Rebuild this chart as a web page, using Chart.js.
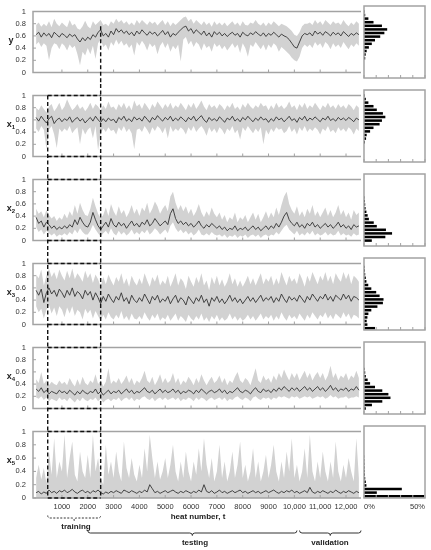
<!DOCTYPE html>
<html lang="en">
<head>
<meta charset="UTF-8">
<title>Heat number series</title>
<script src="https://cdn.jsdelivr.net/npm/chart.js"></script>
<style>
    body { margin: 0; background: #fff; font-family: "Liberation Sans", Arial, sans-serif; }
    #fig { position: relative; width: 431px; height: 550px; overflow: hidden; }
    #fig canvas { position: absolute; }
    .vname { position: absolute; font-weight: bold; font-size: 9px; color: #222; width: 16px; text-align: center; }
    .vname sub { font-size: 6px; vertical-align: -2px; }
    .note { position: absolute; font-weight: bold; font-size: 8px; color: #222; white-space: nowrap; transform: translateX(-50%); }
</style>
</head>
<body>
<div id="fig"></div>

<script>
    // x axis: heat number
    const heatStep = 100;
    const heatMin = -120, heatMax = 12580;
    const heatTicks = [1000, 2000, 3000, 4000, 5000, 6000, 7000, 8000, 9000, 10000, 11000, 12000];
    const heatTickLabels = ['1000', '2000', '3000', '4000', '5000', '6000', '7000', '8000', '9000', '10,000', '11,000', '12,000'];

    // y axis: normalised value
    const valueTicks = [0, 0.2, 0.4, 0.6, 0.8, 1];
    const valueTickLabels = ['0', '0.2', '0.4', '0.6', '0.8', '1'];

    // histogram axis (share of heats, %)
    const shareTicks = [0, 10, 20, 30, 40, 50];
    const shareTickLabels = ['0%', '', '', '', '', '50%'];
    const binCenters = [0.025, 0.075, 0.125, 0.175, 0.225, 0.275, 0.325, 0.375, 0.425, 0.475,
                        0.525, 0.575, 0.625, 0.675, 0.725, 0.775, 0.825, 0.875, 0.925, 0.975];

    // data sets (heat windows)
    const trainStart = 450, trainEnd = 2500;
    const testStart = 2000, testEnd = 10100;
    const validStart = 10200, validEnd = 12580;

    // series values in % of range, one value per 100 heats
    const yMean = [62,66,58,65,60,64,57,66,62,58, 64,61,57,63,59,62,55,50,57,52,
                   58,54,62,58,66,70,60,64,58,68, 62,72,66,70,64,68,62,66,60,68,
                   63,70,65,61,67,63,66,60,64,69, 62,67,58,64,61,66,70,74,76,68,
                   72,64,70,66,62,68,60,65,58,67, 62,66,60,64,59,63,66,61,64,58,
                   66,62,60,65,62,67,63,60,65,59, 64,61,66,62,58,63,60,58,54,48,
                   42,40,50,60,64,62,65,60,68,63, 66,61,67,64,60,66,62,65,60,67,
                   63,59,64,61,65,62];
    const yHigh = [78,82,75,80,76,84,74,88,80,76, 82,78,74,86,77,80,72,70,76,85,
                   76,72,84,78,82,86,78,80,76,84, 80,88,82,86,80,84,78,82,77,86,
                   80,86,82,78,84,80,83,77,82,86, 78,84,76,82,78,82,86,90,92,84,
                   88,80,86,82,78,84,78,82,75,84, 78,82,77,82,76,80,84,78,82,76,
                   84,78,77,82,80,86,80,77,82,76, 82,78,84,80,76,80,78,76,72,68,
                   62,60,66,76,80,80,82,78,86,80, 84,78,86,82,78,84,80,82,78,86,
                   80,76,82,78,84,80];
    const yLow  = [46,50,42,48,44,20,40,48,46,38, 48,44,36,46,40,44,30,12,34,28,
                   40,30,44,22,48,54,42,46,36,50, 44,54,46,52,44,48,40,46,28,50,
                   44,52,46,36,48,42,46,30,44,50, 40,48,34,44,38,46,18,54,58,46,
                   52,42,50,46,36,48,40,44,34,48, 42,46,38,44,36,42,48,40,46,32,
                   48,40,26,46,42,50,44,38,46,36, 46,40,48,44,34,42,38,34,30,24,
                   20,18,26,40,46,42,46,40,50,44, 48,40,50,46,38,48,42,46,40,50,
                   44,38,46,42,48,44];

    const x1Mean = [64,58,66,60,55,62,66,54,60,63, 57,62,59,65,56,61,64,58,62,55,
                    60,64,58,66,60,56,62,57,63,59, 61,55,64,60,66,58,62,57,65,60,
                    63,58,66,61,56,64,60,67,62,58, 64,60,66,58,63,59,65,61,57,64,
                    60,66,58,63,67,60,56,64,59,62, 58,65,61,56,63,60,66,58,62,57,
                    64,60,66,61,57,63,59,65,60,62, 56,62,58,65,60,63,57,61,66,59,
                    62,56,64,60,66,58,63,60,65,61, 57,63,60,66,59,62,58,64,60,63,
                    59,64,61,57,63,60];
    const x1High = [80,76,84,78,72,82,86,74,80,88, 76,82,94,84,76,80,86,78,82,74,
                    80,88,78,86,82,76,84,78,90,80, 82,76,86,80,88,78,84,76,92,82,
                    86,78,88,82,76,86,80,90,84,78, 86,80,88,78,84,80,88,82,76,86,
                    80,88,78,84,92,82,76,86,80,84, 78,86,82,76,84,80,88,78,82,76,
                    86,80,88,82,78,84,80,88,82,84, 76,84,78,88,80,84,78,82,90,80,
                    84,76,86,80,88,78,84,80,88,82, 76,84,80,88,80,84,78,86,80,84,
                    78,86,82,76,84,80];
    const x1Low  = [46,40,50,44,12,44,50,36,14,46, 40,46,42,50,38,44,48,20,46,36,
                    44,48,30,50,10,38,46,40,48,42, 44,36,48,42,50,40,46,38,12,44,
                    46,40,50,44,36,48,42,50,46,38, 48,30,50,40,46,42,48,44,36,48,
                    42,50,40,46,50,44,34,48,40,46, 38,48,44,36,46,42,50,38,44,28,
                    48,42,50,44,38,46,40,48,20,44, 36,46,40,48,44,46,38,42,50,40,
                    46,36,48,42,50,40,46,42,48,44, 36,46,42,50,40,44,38,48,42,46,
                    40,48,44,36,46,42];

    const x2Mean = [38,28,32,22,30,26,20,24,18,22, 19,24,20,26,22,34,26,38,30,24,
                    22,30,46,34,24,18,24,30,22,36, 26,22,30,24,28,20,26,32,24,28,
                    22,30,26,34,24,28,36,30,24,28, 32,26,44,52,36,28,32,26,30,24,
                    28,22,26,32,24,20,26,22,28,24, 20,24,18,22,16,20,18,24,16,20,
                    18,22,16,20,24,18,22,16,20,24, 18,24,20,28,22,30,40,46,34,28,
                    24,30,22,26,20,28,24,30,22,26, 20,24,28,22,26,20,24,30,22,26,
                    20,24,18,26,22,24];
    const x2High = [52,44,48,38,50,42,36,40,32,38, 34,44,36,48,40,58,44,62,50,42,
                    40,52,70,56,44,36,42,54,40,60, 48,40,56,44,50,38,46,58,44,52,
                    40,54,48,62,44,52,64,56,44,52, 58,48,72,80,62,50,58,48,56,44,
                    52,40,48,60,46,38,48,40,54,44, 38,46,34,42,30,38,34,46,30,38,
                    34,42,30,38,46,34,44,30,38,48, 36,46,38,54,42,58,72,80,60,50,
                    44,56,40,48,38,52,44,58,40,48, 38,46,54,40,50,38,46,58,42,50,
                    38,46,34,50,42,46];
    const x2Low  = [22,14,18,10,16,12,8,12,6,10, 8,12,8,14,10,18,12,20,14,10,
                    10,16,26,18,12,6,12,16,10,20, 12,8,16,10,14,8,12,18,10,14,
                    10,16,12,18,10,14,20,16,10,14, 18,12,24,30,20,14,18,12,16,10,
                    14,8,12,18,10,8,12,8,14,10, 8,10,6,10,4,8,6,10,4,8,
                    6,10,4,8,10,6,10,4,8,10, 6,10,8,14,10,16,22,26,18,14,
                    10,16,8,12,8,14,10,16,8,12, 8,10,14,8,12,8,10,16,8,12,
                    8,10,6,12,8,10];

    const x3Mean = [56,48,58,36,52,60,50,56,46,58, 52,44,56,48,60,46,54,50,42,56,
                    48,54,40,52,44,34,46,38,50,42, 36,46,40,52,38,44,34,48,40,36,
                    44,38,50,42,34,46,40,48,36,42, 38,46,34,42,48,36,44,40,32,46,
                    40,34,44,38,48,36,42,30,44,38, 46,36,42,34,40,48,38,44,36,42,
                    34,40,46,38,44,36,42,48,38,44, 40,46,36,44,38,50,42,36,46,40,
                    44,38,48,42,36,46,40,50,44,38, 46,42,50,40,46,38,48,44,40,50,
                    42,48,38,46,44,40];
    const x3High = [82,76,90,64,80,92,78,86,74,90, 80,72,88,76,92,74,84,78,70,88,
                    76,84,68,82,74,62,78,66,82,72, 64,78,70,84,66,76,62,80,70,64,
                    76,66,84,72,62,78,70,82,64,72, 66,80,62,72,84,64,76,70,58,80,
                    70,62,78,68,84,64,72,56,78,66, 80,64,74,62,70,84,66,76,62,72,
                    62,70,80,66,76,64,74,84,66,76, 70,80,64,76,66,86,74,64,80,70,
                    76,66,84,74,62,80,70,86,76,66, 80,72,86,70,80,66,84,76,70,86,
                    74,84,66,80,76,70];
    const x3Low  = [30,20,26,10,24,32,18,28,14,30, 24,12,28,18,30,14,24,20,8,26,
                    18,24,10,22,14,6,16,8,20,12, 8,16,10,22,8,14,6,18,10,8,
                    14,8,20,12,6,16,10,18,6,12, 8,16,6,12,18,6,14,10,4,16,
                    10,6,14,8,18,6,12,4,14,8, 16,6,12,6,10,18,8,14,6,12,
                    6,10,16,8,14,6,12,18,8,14, 10,16,6,14,8,20,12,6,16,10,
                    14,8,18,12,6,16,10,20,14,8, 16,12,20,10,16,8,18,14,10,20,
                    12,18,8,16,14,10];

    const x4Mean = [32,28,34,26,30,24,28,26,24,30, 26,28,24,30,26,22,28,24,30,26,
                    24,28,26,32,24,28,22,26,30,24, 28,26,30,24,28,32,26,30,24,28,
                    26,30,34,28,26,30,24,28,32,26, 30,26,28,32,26,30,24,28,26,30,
                    28,24,30,26,32,28,24,28,30,26, 28,32,26,30,24,28,26,30,34,28,
                    26,30,28,24,30,34,28,26,32,28, 30,26,32,28,34,30,36,32,28,34,
                    30,34,28,32,36,30,34,28,32,36, 30,34,28,32,38,30,34,28,32,30,
                    34,28,32,30,36,30];
    const x4High = [48,42,60,40,46,38,44,40,38,46, 40,44,38,50,42,36,48,38,52,42,
                    38,46,42,56,40,46,36,44,66,40, 46,42,50,40,46,54,42,50,38,46,
                    42,50,62,46,42,52,38,46,56,42, 50,42,46,58,42,50,38,46,42,52,
                    46,38,50,42,56,46,38,46,52,42, 46,54,42,50,38,46,42,52,60,46,
                    42,50,46,38,52,66,46,42,54,46, 50,42,54,46,58,50,64,54,46,58,
                    50,58,46,54,62,50,58,46,54,60, 50,58,46,54,70,50,58,46,54,50,
                    58,46,54,50,62,50];
    const x4Low  = [18,16,20,14,18,12,16,14,12,18, 14,16,12,18,14,10,16,12,18,14,
                    12,16,14,18,12,16,10,14,16,12, 16,14,18,12,16,18,14,18,12,16,
                    14,18,20,16,14,18,12,16,18,14, 18,14,16,18,14,18,12,16,14,18,
                    16,12,18,14,18,16,12,16,18,14, 16,18,14,18,12,16,14,18,20,16,
                    14,18,16,12,18,20,16,14,18,16, 18,14,18,16,20,18,20,18,16,20,
                    18,20,16,18,20,18,20,16,18,20, 18,20,16,18,22,18,20,16,18,18,
                    20,16,18,18,20,18];

    const x5Mean = [8,10,6,9,7,12,8,10,7,11, 9,12,8,10,13,9,7,10,12,8,
                    10,7,11,9,12,8,6,9,7,10, 8,11,9,7,12,10,8,11,9,7,
                    10,8,12,9,20,14,8,10,7,9, 11,8,10,12,9,7,10,8,11,9,
                    7,10,8,12,9,20,10,8,11,7, 9,12,8,10,7,9,11,8,10,12,
                    8,10,7,9,11,8,10,7,9,11, 8,10,12,9,7,10,8,11,9,12,
                    8,10,7,9,11,8,16,9,7,10, 8,11,9,7,10,8,12,9,7,10,
                    8,11,9,7,10,8];
    const x5High = [30,50,28,45,22,70,35,90,30,55, 40,95,30,60,85,35,25,70,40,30,
                    65,30,95,40,60,30,20,80,35,55, 30,70,40,25,85,45,30,60,35,25,
                    50,30,75,40,95,60,30,55,28,40, 60,30,50,80,40,25,55,30,70,40,
                    25,55,35,75,40,90,50,30,60,25, 40,80,30,55,25,40,70,30,50,85,
                    30,50,25,40,75,30,55,25,40,65, 30,50,80,40,25,55,30,70,40,90,
                    30,50,25,40,75,30,95,40,25,55, 30,70,40,25,55,30,85,40,25,50,
                    30,60,40,25,90,30];

    // histograms: share of heats per bin (%)
    const yShare  = [0,0,0,0,0,1,1.4,2.2,4,6.4, 9,13.3,16.7,19,14.7,7.8,3.6,1,0.4,0];
    const x1Share = [0,0,0,0,0,0.8,1.7,2.2,5,7.8, 12.8,14.7,17.5,15.5,10.5,7.8,3.6,1.5,0.5,0];
    const x2Share = [0,6.4,17.5,23,18,10.5,8,4,3,2, 1.3,1,0.8,0.4,0,0,0,0,0,0];
    const x3Share = [9,2.8,2.2,2.8,3.6,6,11,15.5,16,12.8, 10,6,3.5,2,1.5,1,0.8,0.5,0,0];
    const x4Share = [0,1.5,6.5,15,21.7,20,15,9,5,3, 1.5,1,0.5,0,0,0,0,0,0,0];
    const x5Share = [49.4,10.5,31,2,1.5,1,0.8,0.6,0.5,0.4, 0.3,0.2,0,0,0,0,0,0,0,0];

    const panelNames = ['y', 'x', 'x', 'x', 'x', 'x'];
    const panelSubs = ['', '1', '2', '3', '4', '5'];
    const panels = [
        { mean: yMean, low: yLow, high: yHigh, share: yShare },
        { mean: x1Mean, low: x1Low, high: x1High, share: x1Share },
        { mean: x2Mean, low: x2Low, high: x2High, share: x2Share },
        { mean: x3Mean, low: x3Low, high: x3High, share: x3Share },
        { mean: x4Mean, low: x4Low, high: x4High, share: x4Share },
        { mean: x5Mean, low: null, high: x5High, share: x5Share }
    ];

    const heats = yMean.map((_, i) => i * heatStep);

    const bandColor = '#d2d2d2';
    const lineColor = '#333';
    const frameColor = '#a3a3a3';
    const textColor = '#333';
    const tickFont = { family: '"Liberation Sans", Arial, sans-serif', size: 7.5 };

    const pitch = 84, plotH = 72, lastCanvasH = 130;
    const last = panels.length - 1;
    const fig = document.getElementById('fig');

    function brace(ctx, x0, x1, xm, y, h) {
        ctx.beginPath();
        ctx.moveTo(x0, y - h);
        ctx.quadraticCurveTo(x0, y, x0 + h, y);
        ctx.lineTo(xm - h, y);
        ctx.quadraticCurveTo(xm, y, xm, y + h);
        ctx.quadraticCurveTo(xm, y, xm + h, y);
        ctx.lineTo(x1 - h, y);
        ctx.quadraticCurveTo(x1, y, x1, y - h);
        ctx.stroke();
    }

    // frame, inward ticks, training box, braces
    const mainDecor = {
        id: 'mainDecor',
        afterDatasetsDraw(chart, args, opts) {
            const { ctx, chartArea: a, scales: { x, y } } = chart;
            const p = opts.panel;
            ctx.save();
            ctx.strokeStyle = frameColor;
            ctx.lineWidth = 1.5;
            ctx.beginPath();
            ctx.moveTo(a.right, a.top); ctx.lineTo(a.left, a.top);
            ctx.lineTo(a.left, a.bottom); ctx.lineTo(a.right, a.bottom);
            ctx.stroke();
            ctx.lineWidth = 1;
            ctx.beginPath();
            x.ticks.forEach(t => {
                const px = x.getPixelForValue(t.value);
                ctx.moveTo(px, a.bottom); ctx.lineTo(px, a.bottom - 3);
            });
            y.ticks.forEach(t => {
                const py = y.getPixelForValue(t.value);
                ctx.moveTo(a.left, py); ctx.lineTo(a.left + 3, py);
            });
            ctx.stroke();

            ctx.strokeStyle = '#111';
            ctx.lineWidth = 1.4;
            ctx.setLineDash([4, 2.5]);
            const xs = x.getPixelForValue(trainEnd);
            const xl = x.getPixelForValue(trainStart);
            const yEnd = p === last ? a.bottom : chart.height;
            ctx.beginPath();
            ctx.moveTo(xs, p === 0 ? y.getPixelForValue(0.76) : 0);
            ctx.lineTo(xs, yEnd);
            if (p > 0) {
                ctx.moveTo(xl, p === 1 ? a.top : 0);
                ctx.lineTo(xl, yEnd);
                ctx.moveTo(xl, a.top); ctx.lineTo(xs, a.top);
                ctx.moveTo(xl, a.bottom); ctx.lineTo(xs, a.bottom);
            }
            ctx.stroke();

            if (p === last) {
                ctx.lineWidth = 1;
                ctx.strokeStyle = '#333';
                ctx.setLineDash([2, 1.5]);
                brace(ctx, xl, xs, (xl + xs) / 2, a.bottom + 20, 2.5);
                ctx.setLineDash([]);
                const t0 = x.getPixelForValue(testStart), t1 = x.getPixelForValue(testEnd);
                const v0 = x.getPixelForValue(validStart), v1 = x.getPixelForValue(validEnd);
                brace(ctx, t0, t1, (t0 + t1) / 2, a.bottom + 35, 2.5);
                brace(ctx, v0, v1, (v0 + v1) / 2, a.bottom + 35, 2.5);
            }
            ctx.restore();
        }
    };

    const histDecor = {
        id: 'histDecor',
        afterDatasetsDraw(chart) {
            const { ctx, chartArea: a, scales: { x } } = chart;
            ctx.save();
            ctx.strokeStyle = frameColor;
            ctx.lineWidth = 1.5;
            ctx.strokeRect(a.left, a.top, a.right - a.left, a.bottom - a.top);
            ctx.lineWidth = 1;
            ctx.beginPath();
            x.ticks.forEach(t => {
                const px = x.getPixelForValue(t.value);
                ctx.moveTo(px, a.bottom); ctx.lineTo(px, a.bottom - 3);
            });
            ctx.stroke();
            ctx.restore();
        }
    };

    function addCanvas(left, top, w, h) {
        const c = document.createElement('canvas');
        c.width = w; c.height = h;
        c.style.left = left + 'px'; c.style.top = top + 'px';
        fig.appendChild(c);
        return c;
    }

    panels.forEach((pn, i) => {
        const isLast = i === last;
        const top = pitch * i;
        const h = isLast ? lastCanvasH : pitch;
        const axisH = h - 6 - plotH;

        // time series panel: mean line first so it is drawn on top of the band
        const datasets = [{
            data: pn.mean.map((v, k) => ({ x: heats[k], y: v / 100 })),
            borderWidth: 0.9, borderColor: lineColor, pointRadius: 0, fill: false
        }];
        if (pn.low) {
            datasets.push({ data: pn.low.map((v, k) => ({ x: heats[k], y: v / 100 })),
                borderWidth: 0, borderColor: 'transparent', pointRadius: 0, fill: false });
        }
        datasets.push({ data: pn.high.map((v, k) => ({ x: heats[k], y: v / 100 })),
            borderWidth: 0, borderColor: 'transparent', pointRadius: 0,
            backgroundColor: bandColor, fill: pn.low ? '-1' : 'origin' });

        new Chart(addCanvas(0, top, 362, h), {
            type: 'line',
            data: { datasets },
            options: {
                animation: false, responsive: false,
                layout: { padding: { top: 6, right: 1, bottom: 0, left: 0 } },
                plugins: { legend: { display: false }, tooltip: { enabled: false }, mainDecor: { panel: i } },
                scales: {
                    x: {
                        type: 'linear', min: heatMin, max: heatMax,
                        grid: { display: false, drawTicks: false }, border: { display: false },
                        afterBuildTicks: s => { s.ticks = heatTicks.map(v => ({ value: v })); },
                        afterFit: s => { s.height = axisH; },
                        ticks: { display: isLast, padding: 4, font: tickFont, color: textColor,
                                 maxRotation: 0, autoSkip: false, callback: (v, k) => heatTickLabels[k] }
                    },
                    y: {
                        min: 0, max: 1,
                        grid: { display: false, drawTicks: false }, border: { display: false },
                        afterBuildTicks: s => { s.ticks = valueTicks.map(v => ({ value: v })); },
                        afterFit: s => { s.width = 33; },
                        ticks: { padding: 7, font: tickFont, color: textColor, callback: (v, k) => valueTickLabels[k] }
                    }
                }
            },
            plugins: [mainDecor]
        });

        // histogram panel
        new Chart(addCanvas(362, top, 69, h), {
            type: 'bar',
            data: { datasets: [{
                data: pn.share.map((v, k) => ({ x: v, y: binCenters[k] })),
                backgroundColor: '#000', borderWidth: 0, barPercentage: 0.7, categoryPercentage: 1
            }] },
            options: {
                indexAxis: 'y', animation: false, responsive: false,
                layout: { padding: { top: 6, right: 6, bottom: 0, left: 2 } },
                plugins: { legend: { display: false }, tooltip: { enabled: false } },
                scales: {
                    x: {
                        type: 'linear', min: 0, max: 50,
                        grid: { display: false, drawTicks: false }, border: { display: false },
                        afterBuildTicks: s => { s.ticks = shareTicks.map(v => ({ value: v })); },
                        afterFit: s => { s.height = axisH; s.paddingLeft = 0; s.paddingRight = 0; },
                        ticks: { display: isLast, padding: 4, align: 'inner', font: tickFont, color: textColor,
                                 maxRotation: 0, autoSkip: false, callback: (v, k) => shareTickLabels[k] }
                    },
                    y: { type: 'linear', min: 0, max: 1, offset: false, display: false }
                }
            },
            plugins: [histDecor]
        });

        // variable name
        const lab = document.createElement('div');
        lab.className = 'vname';
        lab.style.left = '3px';
        lab.style.top = (top + 6 + 29) + 'px';
        lab.innerHTML = panelNames[i] + (panelSubs[i] ? '<sub>' + panelSubs[i] + '</sub>' : '');
        fig.appendChild(lab);
    });

    // notes under the axis
    [['heat number, t', 198, 512], ['training', 76, 522], ['testing', 195, 538], ['validation', 330, 538]]
        .forEach(([text, cx, top]) => {
            const d = document.createElement('div');
            d.className = 'note';
            d.textContent = text;
            d.style.left = cx + 'px';
            d.style.top = top + 'px';
            fig.appendChild(d);
        });
</script>
</body>
</html>
